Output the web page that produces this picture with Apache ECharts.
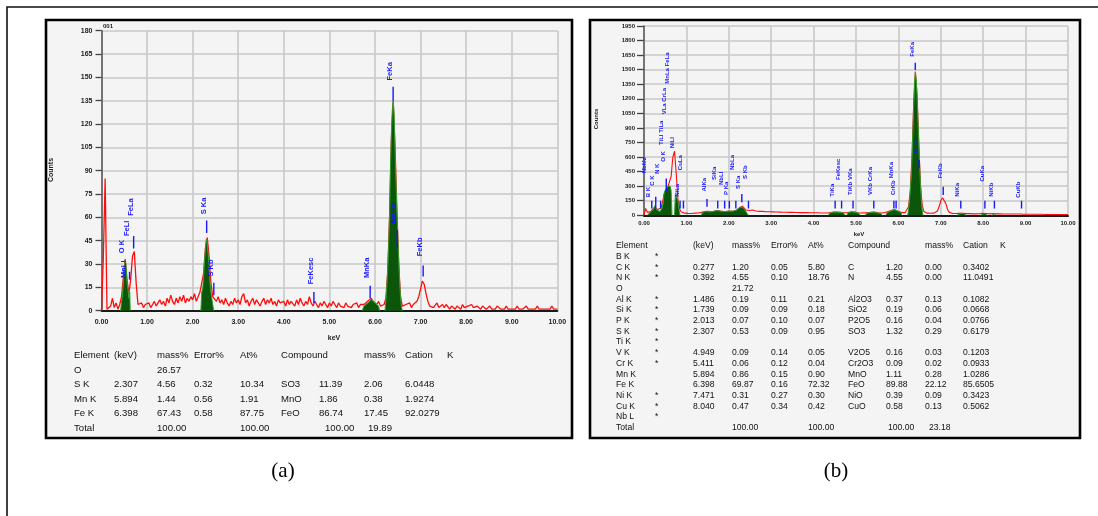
<!DOCTYPE html>
<html>
<head>
<meta charset="utf-8">
<script src="https://cdn.jsdelivr.net/npm/echarts@6/dist/echarts.min.js"></script>
<style>
  html, body { margin: 0; padding: 0; background: #ffffff; }
  #chart { width: 1098px; height: 516px; }
</style>
</head>
<body>
<div id="chart"></div>
<script>
// ---- EDS spectra: counts per 0.04 keV channel, 0.00 .. 10.00 keV ----
const channelWidth = 0.04;
const energyTicks = [0, 1, 2, 3, 4, 5, 6, 7, 8, 9, 10];

// Spectrum (a): measured counts (red trace)
const spectrumA = [
  0, 34, 85, 1, 0, 3, 8, 2, 5, 1, 4, 9, 22, 33, 20, 11, 20, 35, 38, 18, 4, 3, 5, 2, 4,
  3, 5, 2, 4, 6, 3, 5, 7, 4, 6, 3, 8, 5, 10, 6, 4, 8, 5, 9, 6, 10, 5, 8, 6, 9,
  7, 11, 6, 9, 12, 13, 24, 40, 47, 35, 18, 9, 8, 6, 9, 5, 7, 4, 8, 5, 3, 6, 4, 8, 5,
  7, 4, 9, 11, 5, 7, 3, 6, 8, 4, 7, 5, 3, 6, 8, 4, 7, 5, 8, 4, 6, 3, 7, 5, 4,
  6, 3, 7, 4, 6, 5, 3, 7, 4, 8, 5, 3, 6, 4, 9, 5, 3, 6, 4, 2, 5, 3, 6, 4, 2,
  5, 3, 6, 4, 2, 5, 3, 4, 2, 5, 3, 4, 2, 4, 3, 5, 2, 4, 3, 4, 5, 6, 7, 8, 6,
  5, 4, 6, 3, 2, 4, 8, 25, 60, 110, 135, 105, 65, 30, 9, 3, 2, 4, 3, 5, 2, 4, 3, 6, 9,
  14, 19, 17, 11, 6, 3, 4, 2, 3, 5, 2, 3, 4, 2, 4, 3, 1, 3, 2, 1, 3, 2, 1, 4, 2,
  1, 3, 2, 4, 2, 1, 3, 2, 1, 3, 2, 1, 2, 3, 1, 2, 1, 3, 2, 1, 2, 1, 3, 1, 2,
  1, 2, 1, 3, 1, 2, 1, 2, 3, 1, 2, 1, 2, 1, 3, 1, 2, 1, 2, 1, 2, 1, 3, 1, 2,
  1
];

// Spectrum (a): identified peak areas (green), [keV, counts]
const peakOA  = [[0.42,0],[0.44,6],[0.46,10],[0.48,18],[0.50,26],[0.52,33],[0.54,28],[0.56,18],[0.58,14],[0.60,8],[0.62,12],[0.63,0]];
const peakSA  = [[2.18,0],[2.20,12],[2.22,14],[2.24,22],[2.26,32],[2.28,40],[2.30,46],[2.32,44],[2.34,36],[2.36,28],[2.38,18],[2.40,12],[2.42,8],[2.44,4],[2.46,0]];
const peakMnA = [[5.72,0],[5.76,3],[5.80,4],[5.84,5],[5.88,6],[5.92,7],[5.96,6],[6.00,5],[6.04,4],[6.08,3],[6.10,0]];
const peakFeA = [[6.22,0],[6.24,7],[6.26,16],[6.28,27],[6.30,42],[6.32,62],[6.34,92],[6.36,114],[6.38,129],[6.40,135],[6.42,126],[6.44,104],[6.46,84],[6.48,65],[6.50,48],[6.52,33],[6.54,19],[6.56,9],[6.58,3],[6.60,0]];

// Spectrum (a): line markers [name, keV, tick from, tick to, label start] (counts)
const linesA = [
  ['O K', 0.525, null, null, 37],
  ['MnLl', 0.556, null, null, 21],
  ['FeLl', 0.615, 20, 25, 48],
  ['FeLa', 0.705, 40, 48, 61],
  ['S Ka', 2.307, 50, 58, 62],
  ['S Kb', 2.464, 10, 18, 22],
  ['FeKesc', 4.66, 5, 12, 17],
  ['MnKa', 5.894, 8, 16, 21],
  ['FeKa', 6.398, 135, 144, 148],
  ['MnKb', 6.49, 40, 52, 56],
  ['FeKb', 7.057, 22, 29, 35]
];

// Spectrum (b): measured counts (red trace)
const spectrumB = [
  5, 70, 30, 25, 40, 55, 80, 95, 60, 55, 75, 140, 220, 240, 290, 300, 400, 600, 660, 430, 170, 65, 35, 25, 22,
  22, 20, 21, 19, 20, 22, 21, 23, 25, 30, 35, 38, 42, 40, 36, 35, 40, 45, 50, 48, 42, 40, 38, 36, 40,
  45, 42, 40, 44, 48, 55, 70, 90, 95, 75, 55, 45, 50, 45, 55, 48, 44, 42, 40, 38, 40, 37, 36, 35, 36,
  38, 35, 36, 34, 35, 33, 34, 32, 33, 31, 32, 30, 31, 30, 31, 29, 30, 28, 29, 28, 27, 28, 26, 27, 26,
  27, 25, 26, 25, 24, 25, 24, 23, 24, 25, 28, 30, 34, 38, 33, 30, 32, 29, 27, 26, 28, 30, 33, 38, 35,
  30, 27, 25, 24, 23, 25, 27, 26, 28, 32, 36, 33, 28, 25, 24, 23, 25, 28, 32, 38, 45, 52, 60, 58, 48,
  40, 32, 28, 26, 28, 40, 90, 250, 600, 1150, 1480, 1250, 750, 320, 110, 40, 25, 22, 20, 21, 20, 22, 28, 45, 90,
  150, 180, 170, 120, 60, 30, 20, 18, 17, 18, 19, 21, 23, 20, 18, 17, 16, 17, 16, 15, 16, 15, 16, 17, 19,
  21, 22, 18, 16, 15, 17, 18, 16, 15, 14, 15, 14, 13, 14, 13, 14, 13, 12, 13, 12, 13, 12, 13, 12, 11,
  12, 11, 12, 11, 10, 11, 10, 11, 10, 11, 10, 9, 10, 9, 10, 9, 10, 9, 8, 9, 8, 9, 8, 9, 8,
  8
];

// Spectrum (b): identified peak areas (green), [keV, counts]
const peakLowB  = [[0.08,0],[0.10,15],[0.14,30],[0.18,35],[0.22,60],[0.26,100],[0.30,55],[0.34,35],[0.38,40],[0.42,70],[0.45,120],[0.47,220],[0.50,260],[0.53,280],[0.56,300],[0.59,290],[0.62,300],[0.64,250],[0.66,0]];
const peakLB    = [[0.72,0],[0.74,220],[0.77,240],[0.80,150],[0.83,50],[0.85,0]];
const peakAlSB  = [[1.35,0],[1.38,30],[1.42,38],[1.46,42],[1.50,40],[1.54,35],[1.58,33],[1.62,38],[1.66,45],[1.70,48],[1.74,50],[1.78,45],[1.82,40],[1.86,38],[1.90,36],[1.94,40],[1.98,44],[2.02,42],[2.06,40],[2.10,43],[2.14,46],[2.18,52],[2.22,65],[2.26,85],[2.30,95],[2.34,80],[2.38,55],[2.42,40],[2.46,0]];
const peakTiB   = [[4.35,0],[4.38,22],[4.42,27],[4.46,32],[4.50,36],[4.54,32],[4.58,28],[4.62,30],[4.66,27],[4.70,25],[4.74,0]];
const peakVB    = [[4.78,0],[4.82,28],[4.86,31],[4.90,36],[4.94,34],[4.98,29],[5.02,26],[5.06,24],[5.10,0]];
const peakCrB   = [[5.22,0],[5.26,24],[5.30,26],[5.34,30],[5.38,34],[5.42,32],[5.46,27],[5.50,24],[5.54,22],[5.58,21],[5.62,0]];
const peakMnB   = [[5.70,0],[5.74,30],[5.78,36],[5.82,44],[5.86,52],[5.90,58],[5.94,55],[5.98,45],[6.02,35],[6.06,28],[6.08,0]];
const peakFeB   = [[6.22,0],[6.24,60],[6.26,150],[6.28,250],[6.30,380],[6.32,580],[6.34,850],[6.36,1120],[6.38,1350],[6.40,1470],[6.42,1400],[6.44,1230],[6.46,1000],[6.48,760],[6.50,520],[6.52,320],[6.54,160],[6.56,60],[6.58,0]];
const peakNiB   = [[7.38,0],[7.42,16],[7.48,20],[7.54,17],[7.60,0]];
const peakCuB   = [[7.94,0],[7.98,17],[8.02,20],[8.06,19],[8.10,0]];
const peakNiKbB = [[8.20,0],[8.23,16],[8.27,15],[8.30,0]];

// Spectrum (b): line markers [name, keV, tick from, tick to, label start] (counts)
const linesB = [
  ['NbMz', 0.07, null, null, 432],
  ['B K', 0.183, 70, 150, 185],
  ['C K', 0.277, 70, 190, 305],
  ['N K', 0.392, 70, 150, 425],
  ['O K', 0.525, 240, 380, 552],
  ['TiLl TiLa', 0.47, null, null, 724],
  ['VLa CrLa', 0.55, null, null, 1040],
  ['MnLa FeLa', 0.63, null, null, 1355],
  ['NiLl', 0.743, null, null, 690],
  ['NiLa', 0.851, 70, 150, 190],
  ['CuLa', 0.93, 70, 150, 465],
  ['AlKa', 1.486, 89, 168, 244],
  ['SiKa', 1.739, 70, 150, 364],
  ['NbLl', 1.902, 70, 150, 312],
  ['P Ka', 2.013, 70, 150, 209],
  ['NbLa', 2.166, 70, 150, 467],
  ['S Ka', 2.307, 134, 220, 271],
  ['S Kb', 2.464, 70, 150, 374],
  ['TiKa', 4.508, 70, 150, 192],
  ['FeKesc', 4.66, 70, 150, 364],
  ['TiKb VKa', 4.93, 70, 150, 209],
  ['VKb CrKa', 5.42, 70, 150, 209],
  ['MnKa', 5.894, 70, 150, 381],
  ['CrKb', 5.946, 70, 150, 209],
  ['FeKa', 6.398, 1497, 1572, 1634],
  ['MnKb', 6.49, 484, 570, 638],
  ['FeKb', 7.057, 209, 295, 381],
  ['NiKa', 7.471, 70, 150, 192],
  ['CuKa', 8.04, 70, 150, 347],
  ['NiKb', 8.264, 70, 150, 192],
  ['CuKb', 8.904, 70, 150, 182]
];

// ---- Quantification tables ----
const tableAHeader = ['Element', '(keV)', 'mass%', 'Error%', 'At%', 'Compound', '', 'mass%', 'Cation', 'K'];
const tableARows = [
  ['O', '', '26.57', '', '', '', '', '', '', ''],
  ['S K', '2.307', '4.56', '0.32', '10.34', 'SO3', '11.39', '2.06', '6.0448', ''],
  ['Mn K', '5.894', '1.44', '0.56', '1.91', 'MnO', '1.86', '0.38', '1.9274', ''],
  ['Fe K', '6.398', '67.43', '0.58', '87.75', 'FeO', '86.74', '17.45', '92.0279', '']
];
const tableATotal = ['Total', '', '100.00', '', '100.00', '', '100.00', '19.89', '', ''];

const tableBHeader = ['Element', '', '(keV)', 'mass%', 'Error%', 'At%', 'Compound', '', 'mass%', 'Cation', 'K'];
const tableBRows = [
  ['B K', '*', '', '', '', '', '', '', '', '', ''],
  ['C K', '*', '0.277', '1.20', '0.05', '5.80', 'C', '1.20', '0.00', '0.3402', ''],
  ['N K', '*', '0.392', '4.55', '0.10', '18.76', 'N', '4.55', '0.00', '11.0491', ''],
  ['O', '', '', '21.72', '', '', '', '', '', '', ''],
  ['Al K', '*', '1.486', '0.19', '0.11', '0.21', 'Al2O3', '0.37', '0.13', '0.1082', ''],
  ['Si K', '*', '1.739', '0.09', '0.09', '0.18', 'SiO2', '0.19', '0.06', '0.0668', ''],
  ['P K', '*', '2.013', '0.07', '0.10', '0.07', 'P2O5', '0.16', '0.04', '0.0766', ''],
  ['S K', '*', '2.307', '0.53', '0.09', '0.95', 'SO3', '1.32', '0.29', '0.6179', ''],
  ['Ti K', '*', '', '', '', '', '', '', '', '', ''],
  ['V K', '*', '4.949', '0.09', '0.14', '0.05', 'V2O5', '0.16', '0.03', '0.1203', ''],
  ['Cr K', '*', '5.411', '0.06', '0.12', '0.04', 'Cr2O3', '0.09', '0.02', '0.0933', ''],
  ['Mn K', '', '5.894', '0.86', '0.15', '0.90', 'MnO', '1.11', '0.28', '1.0286', ''],
  ['Fe K', '', '6.398', '69.87', '0.16', '72.32', 'FeO', '89.88', '22.12', '85.6505', ''],
  ['Ni K', '*', '7.471', '0.31', '0.27', '0.30', 'NiO', '0.39', '0.09', '0.3423', ''],
  ['Cu K', '*', '8.040', '0.47', '0.34', '0.42', 'CuO', '0.58', '0.13', '0.5062', ''],
  ['Nb L', '*', '', '', '', '', '', '', '', '', '']
];
const tableBTotal = ['Total', '', '', '100.00', '', '100.00', '', '100.00', '23.18', '', ''];

// ---- drawing ----
const RED = '#ff0d0d';
const GREEN_FILL = '#0b560b';
const GREEN_EDGE = '#2f9f2f';
const BLUE = '#1717ff';
const GRID_LINE = '#c9c9c9';
const SANS = '"Liberation Sans", Arial, sans-serif';

const chart = echarts.init(document.getElementById('chart'), null, { renderer: 'canvas' });

function channelData(values) {
  return values.map((v, i) => [+(i * channelWidth).toFixed(2), v]);
}

function redTrace(idx, values, width) {
  return {
    type: 'line', xAxisIndex: idx, yAxisIndex: idx, data: channelData(values),
    showSymbol: false, silent: true, z: 2,
    lineStyle: { color: RED, width: width }
  };
}

function peakArea(idx, pts) {
  return {
    type: 'line', xAxisIndex: idx, yAxisIndex: idx, data: pts,
    showSymbol: false, silent: true, z: 3,
    lineStyle: { color: GREEN_EDGE, width: 1 },
    areaStyle: { color: GREEN_FILL, opacity: 1 }
  };
}

function markerSeries(idx, list, font) {
  return {
    type: 'custom', xAxisIndex: idx, yAxisIndex: idx, silent: true, z: 6, clip: false,
    data: list.map((m, i) => [m[1], m[4], i]),
    renderItem: function (params, api) {
      const m = list[api.value(2)];
      const children = [];
      if (m[2] != null) {
        const a = api.coord([m[1], m[2]]);
        const b = api.coord([m[1], m[3]]);
        children.push({
          type: 'line',
          shape: { x1: a[0], y1: a[1], x2: b[0], y2: b[1] },
          style: { stroke: BLUE, lineWidth: 1.4 }
        });
      }
      const p = api.coord([m[1], m[4]]);
      children.push({
        type: 'text', x: p[0] - 3, y: p[1], rotation: Math.PI / 2,
        style: { text: m[0], font: font, fill: BLUE, align: 'left', verticalAlign: 'middle',
                 textAlign: 'left', textVerticalAlign: 'middle' }
      });
      return { type: 'group', children: children };
    }
  };
}

function xAxisCfg(idx, margin, size) {
  return {
    type: 'value', gridIndex: idx, min: energyTicks[0], max: energyTicks[energyTicks.length - 1], interval: 1,
    axisLine: { show: true, onZero: false, lineStyle: { color: '#1a1a1a', width: 2 } },
    axisTick: { show: false },
    axisLabel: { formatter: v => v.toFixed(2), fontSize: size, fontWeight: 'bold', color: '#222',
                 margin: margin, fontFamily: SANS, showMinLabel: true, showMaxLabel: true },
    splitLine: { show: true, lineStyle: { color: GRID_LINE, width: 1.6 } }
  };
}

function yAxisCfg(idx, max, step, size, tickLen) {
  return {
    type: 'value', gridIndex: idx, min: 0, max: max, interval: step,
    axisLine: { show: true, lineStyle: { color: '#555', width: 1.5 } },
    axisTick: { show: true, inside: false, length: tickLen, lineStyle: { color: '#444', width: 1.3 } },
    axisLabel: { formatter: v => String(v), fontSize: size, fontWeight: 'bold', color: '#222', margin: 9,
                 fontFamily: SANS, showMinLabel: true, showMaxLabel: true },
    splitLine: { show: true, lineStyle: { color: GRID_LINE, width: 1.6 } }
  };
}

function tableTexts(header, rows, total, cols, y0, dy, fontSize, totalShift) {
  const out = [];
  const font = fontSize + 'px ' + SANS;
  const put = (txt, x, y) => {
    if (!txt) return;
    out.push({ type: 'text', x: x, y: y, z: 10,
      style: { text: txt, font: font, fill: '#111', align: 'left', verticalAlign: 'middle',
               textAlign: 'left', textVerticalAlign: 'middle' } });
  };
  header.forEach((h, c) => put(h, cols[c], y0));
  rows.forEach((r, i) => r.forEach((v, c) => put(v, cols[c], y0 + (i + 1) * dy)));
  total.forEach((v, c) => put(v, cols[c] + (totalShift[c] || 0), y0 + (rows.length + 1) * dy));
  return out;
}

const colsA = [74, 114, 157, 194, 240, 281, 319, 364, 405, 447];
const colsB = [616, 655, 693, 732, 771, 808, 848, 886, 925, 963, 1000];

const graphics = [
  // outer figure frame
  { type: 'polyline', z: 0, shape: { points: [[1098, 7], [7, 7], [7, 516]] },
    style: { stroke: '#111', lineWidth: 1.6, fill: null } },
  // panel boxes
  { type: 'rect', z: -5, shape: { x: 46, y: 20, width: 526, height: 418 },
    style: { fill: '#f4f4f4', stroke: '#000', lineWidth: 2.6 } },
  { type: 'rect', z: -5, shape: { x: 590, y: 20, width: 490, height: 418 },
    style: { fill: '#f4f4f4', stroke: '#000', lineWidth: 2.6 } },
  // axis titles
  { type: 'text', x: 51, y: 170, rotation: Math.PI / 2, z: 10,
    style: { text: 'Counts', font: 'bold 7px ' + SANS, fill: '#222', align: 'center', verticalAlign: 'middle',
             textAlign: 'center', textVerticalAlign: 'middle' } },
  { type: 'text', x: 334, y: 338, z: 10,
    style: { text: 'keV', font: 'bold 7px ' + SANS, fill: '#222', align: 'center', verticalAlign: 'middle',
             textAlign: 'center', textVerticalAlign: 'middle' } },
  { type: 'text', x: 108, y: 26.5, z: 10,
    style: { text: '001', font: 'bold 6px ' + SANS, fill: '#222', align: 'center', verticalAlign: 'middle',
             textAlign: 'center', textVerticalAlign: 'middle' } },
  { type: 'text', x: 596, y: 119, rotation: Math.PI / 2, z: 10,
    style: { text: 'Counts', font: 'bold 6px ' + SANS, fill: '#222', align: 'center', verticalAlign: 'middle',
             textAlign: 'center', textVerticalAlign: 'middle' } },
  { type: 'text', x: 859, y: 234, z: 10,
    style: { text: 'keV', font: 'bold 6px ' + SANS, fill: '#222', align: 'center', verticalAlign: 'middle',
             textAlign: 'center', textVerticalAlign: 'middle' } },
  // captions
  { type: 'text', x: 283, y: 471, z: 10,
    style: { text: '(a)', font: '21px "Liberation Serif", "Times New Roman", serif', fill: '#000',
             align: 'center', verticalAlign: 'middle', textAlign: 'center', textVerticalAlign: 'middle' } },
  { type: 'text', x: 836, y: 471, z: 10,
    style: { text: '(b)', font: '21px "Liberation Serif", "Times New Roman", serif', fill: '#000',
             align: 'center', verticalAlign: 'middle', textAlign: 'center', textVerticalAlign: 'middle' } }
].concat(
  tableTexts(tableAHeader, tableARows, tableATotal, colsA, 355.5, 14.5, 9.6, { 6: 6, 7: 4 }),
  tableTexts(tableBHeader, tableBRows, tableBTotal, colsB, 245.8, 10.7, 8.6, { 7: 2, 8: 4 })
);

const option = {
  animation: false,
  backgroundColor: '#ffffff',
  grid: [
    { left: 101.5, top: 30.7, width: 455.8, height: 280, containLabel: false, outerBoundsMode: 'none', show: false },
    { left: 644, top: 26, width: 424, height: 189.3, containLabel: false, outerBoundsMode: 'none', show: false }
  ],
  xAxis: [xAxisCfg(0, 8, 7), xAxisCfg(1, 5, 6)],
  yAxis: [yAxisCfg(0, 180, 15, 7, 6), yAxisCfg(1, 1950, 150, 6, 7)],
  graphic: graphics,
  series: [
    redTrace(0, spectrumA, 1.3),
    peakArea(0, peakOA), peakArea(0, peakSA), peakArea(0, peakMnA), peakArea(0, peakFeA),
    markerSeries(0, linesA, 'bold 7.5px ' + SANS),
    redTrace(1, spectrumB, 1.1),
    peakArea(1, peakLowB), peakArea(1, peakLB), peakArea(1, peakAlSB), peakArea(1, peakTiB),
    peakArea(1, peakVB), peakArea(1, peakCrB), peakArea(1, peakMnB), peakArea(1, peakFeB),
    peakArea(1, peakNiB), peakArea(1, peakCuB), peakArea(1, peakNiKbB),
    markerSeries(1, linesB, 'bold 6px ' + SANS)
  ]
};

chart.setOption(option);
</script>
</body>
</html>
